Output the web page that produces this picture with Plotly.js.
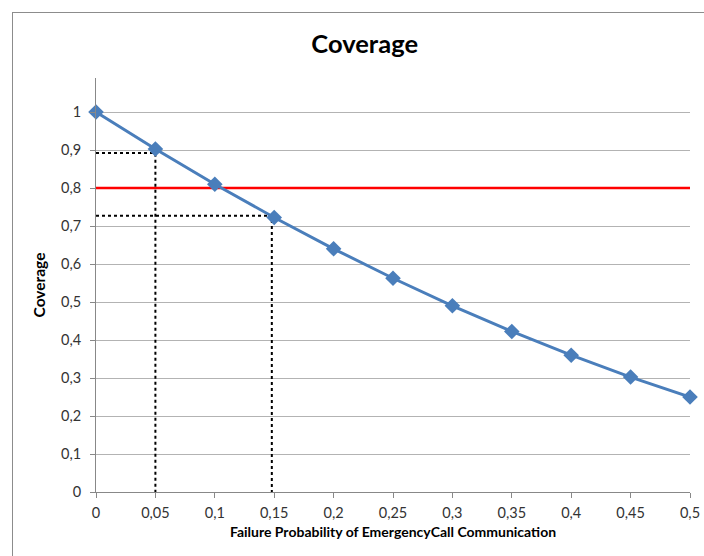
<!DOCTYPE html>
<html>
<head>
<meta charset="utf-8">
<script src="https://cdn.plot.ly/plotly-3.0.1.min.js"></script>
<style>
  html, body { margin: 0; padding: 0; background: #ffffff; }
  #wrap { position: relative; width: 704px; height: 556px; overflow: hidden; }
  #frame { position: absolute; left: 12px; top: 12px; width: 720px; height: 600px;
           border: 1.5px solid #8c8c8c; box-sizing: border-box; pointer-events: none; }
  #chart { position: absolute; left: 0; top: 0; width: 704px; height: 556px; }
</style>
</head>
<body>
<div id="wrap">
  <div id="chart"></div>
  <div id="frame"></div>
</div>
<script>
// Data
const failureProb = [0, 0.05, 0.1, 0.15, 0.2, 0.25, 0.3, 0.35, 0.4, 0.45, 0.5];
const coverage = [1, 0.9025, 0.81, 0.7225, 0.64, 0.5625, 0.49, 0.4225, 0.36, 0.3025, 0.25];
const thresholdX = [0, 0.5];
const thresholdY = [0.8, 0.8];
const guide1X = [0, 0.05, 0.05];
const guide1Y = [0.892, 0.892, 0];
const guide2X = [0, 0.148, 0.148];
const guide2Y = [0.727, 0.727, 0];
const yTickVals = [0, 0.1, 0.2, 0.3, 0.4, 0.5, 0.6, 0.7, 0.8, 0.9, 1];

const FONT = 'Lato, "Open Sans", sans-serif';

const traces = [
  { x: thresholdX, y: thresholdY, mode: 'lines', line: { color: '#ff0000', width: 2.5 },
    hoverinfo: 'skip', cliponaxis: false, showlegend: false },
  { x: guide1X, y: guide1Y, mode: 'lines', line: { color: '#000000', width: 2, dash: 'dot' },
    hoverinfo: 'skip', showlegend: false },
  { x: guide2X, y: guide2Y, mode: 'lines', line: { color: '#000000', width: 2, dash: 'dot' },
    hoverinfo: 'skip', showlegend: false },
  { x: failureProb, y: coverage, mode: 'lines+markers',
    line: { color: '#4a7ebb', width: 3 },
    marker: { symbol: 'diamond', size: 12, color: '#4a7ebb' },
    cliponaxis: false, showlegend: false }
];

const layout = {
  width: 704, height: 556,
  margin: { l: 96, r: 14, t: 78, b: 64 },
  paper_bgcolor: 'rgba(0,0,0,0)',
  plot_bgcolor: '#ffffff',
  separators: ', ',
  font: { family: FONT, size: 14.5, color: '#333333' },
  title: { text: 'Coverage', font: { family: FONT, size: 25.5, color: '#000000', weight: 'bold' },
           xref: 'container', x: 0.518, xanchor: 'center', yref: 'container', y: 0.921, yanchor: 'middle' },
  xaxis: {
    range: [0, 0.5], tick0: 0, dtick: 0.05, showgrid: false, zeroline: false,
    showline: true, linecolor: '#888888', linewidth: 1,
    ticks: 'outside', ticklen: 5, tickcolor: '#888888', ticklabelstandoff: 3,
    tickfont: { family: FONT, size: 14.5, color: '#333333' },
    title: { text: 'Failure Probability of EmergencyCall Communication',
             font: { family: FONT, size: 14, color: '#000000', weight: 'bold' }, standoff: 6 },
    fixedrange: true
  },
  yaxis: {
    range: [0, 1.0895], tickvals: yTickVals, showgrid: true, gridcolor: '#b3b3b3', gridwidth: 1,
    zeroline: false, showline: true, linecolor: '#888888', linewidth: 1,
    ticks: 'outside', ticklen: 5, tickcolor: '#888888', ticklabelstandoff: 6,
    tickfont: { family: FONT, size: 14.5, color: '#333333' },
    title: { text: 'Coverage', font: { family: FONT, size: 15.5, color: '#000000', weight: 'bold' }, standoff: 11 },
    fixedrange: true
  },
  showlegend: false
};

Plotly.newPlot('chart', traces, layout, { displayModeBar: false, staticPlot: true });
</script>
</body>
</html>
